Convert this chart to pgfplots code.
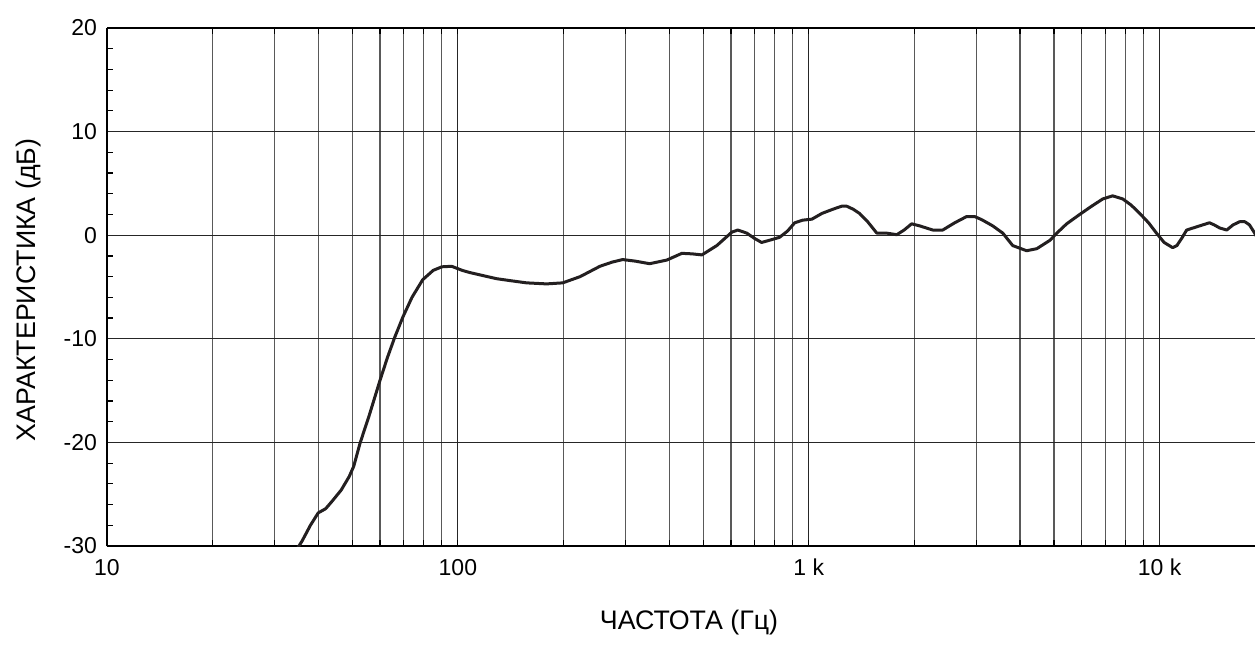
\documentclass[border=0pt]{standalone}
\usepackage{fontspec}
\setmainfont{Liberation Sans}
\usepackage{pgfplots}
\pgfplotsset{compat=1.18}
\begin{document}
\begin{tikzpicture}[font=\fontsize{11.5pt}{13pt}\selectfont]
\begin{axis}[
  name=ax, at={(0,0)}, anchor=south west,
  scale only axis, width=574pt, height=259pt,
  xmode=log, xmin=10, xmax=18700,
  ymin=-30, ymax=20,
  axis x line=box, axis y line=left,
  axis line style={-, line width=1pt, black},
  xtick={10,100,1000,10000},
  xticklabels={10,100,1 k,10 k},
  ytick={-30,-20,-10,0,10,20},
  yticklabels={-30,-20,-10,0,10,20},
  minor ytick={-28,-26,-24,-22,-18,-16,-14,-12,-8,-6,-4,-2,2,4,6,8,12,14,16,18},
  tick align=inside, ytick pos=left,
  major tick length=0pt, minor tick length=3pt,
  minor tick style={black, line width=0.6pt},
  xmajorgrids, xminorgrids, ymajorgrids,
  major grid style={black!85, line width=0.6pt},
  minor grid style={black!65, line width=0.6pt},
  xticklabel style={yshift=-3pt},
  yticklabel style={xshift=-1.5pt},
  /pgf/number format/assume math mode=true,
  xlabel={ЧАСТОТА (Гц)},
  xlabel style={at={(axis description cs:0.507,-0.147)}, anchor=center, font=\fontsize{13.4pt}{15pt}\selectfont},
  ylabel={ХАРАКТЕРИСТИКА (дБ)},
  ylabel style={at={(axis description cs:-0.068,0.494)}, anchor=center, font=\fontsize{13.4pt}{15pt}\selectfont},
]
\addplot[line width=1.5pt, color={rgb,255:red,35;green,31;blue,32}, line join=round] coordinates {
(34.5,-30.5) (36,-29.5) (38,-28.0) (40,-26.8) (42,-26.4) (44,-25.6) (46.5,-24.6)
(49,-23.3) (50.5,-22.3) (52.6,-20.1) (56,-17.3) (60,-14.0) (63,-11.8) (66,-9.9)
(69.7,-7.9) (74,-6.0) (79.4,-4.3) (85,-3.4) (90,-3.05) (96,-3.0) (103,-3.4)
(108,-3.6) (118,-3.9) (129,-4.2) (142,-4.4) (157,-4.6) (179,-4.7) (199,-4.6)
(223,-4.0) (254,-3.0) (275,-2.6) (295,-2.35) (320,-2.5) (352,-2.75) (394,-2.4)
(435,-1.75) (465,-1.8) (496,-1.9) (547,-1.0) (604,0.3) (628,0.5) (666,0.2)
(700,-0.3) (734,-0.7) (780,-0.45) (826,-0.2) (870,0.4) (912,1.2) (960,1.45)
(1021,1.55) (1090,2.1) (1170,2.5) (1241,2.8) (1283,2.8) (1340,2.5) (1396,2.1)
(1472,1.3) (1563,0.2) (1667,0.2) (1782,0.05) (1870,0.5) (1965,1.1) (2071,0.9)
(2256,0.5) (2409,0.5) (2606,1.2) (2818,1.8) (2971,1.8) (3112,1.5) (3345,0.9)
(3573,0.2) (3813,-1.0) (4178,-1.5) (4467,-1.3) (4864,-0.5) (5129,0.3) (5433,1.1)
(5916,2.0) (6400,2.8) (6887,3.5) (7346,3.8) (7852,3.5) (8300,2.9) (8777,2.1)
(9300,1.2) (9795,0.2) (10300,-0.7) (10890,-1.2) (11200,-1.0) (11560,-0.3)
(11940,0.5) (13000,0.9) (13870,1.2) (14300,1.0) (14830,0.7) (15530,0.5)
(16200,1.0) (16900,1.3) (17500,1.3) (18030,1.0) (18660,0.2) (19000,-0.3)
};
\end{axis}
\pgfresetboundingbox
\path[use as bounding box] (-53.5pt,-49pt) rectangle (574pt,273pt);
\end{tikzpicture}
\end{document}
